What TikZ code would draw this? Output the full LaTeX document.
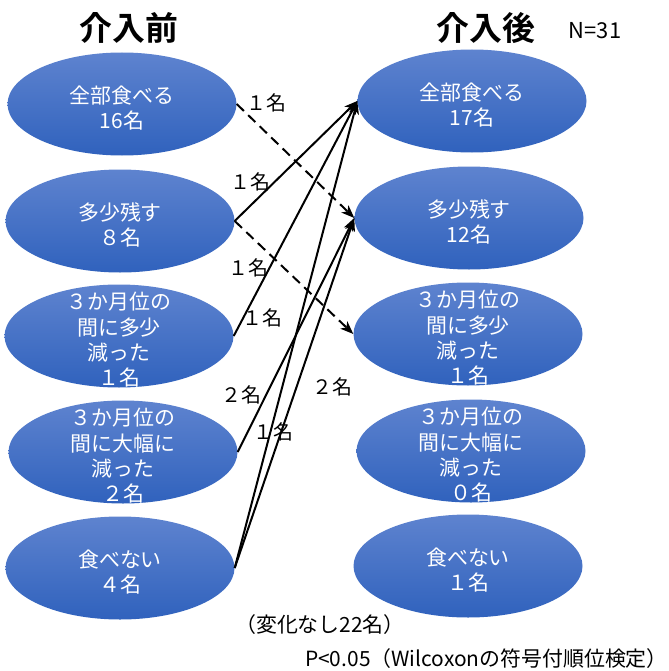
\documentclass[tikz,border=0pt]{standalone}
\usepackage{fontspec}
\newfontfamily\jp{Noto Sans CJK JP}[BoldFont={Noto Sans CJK JP Bold}]
\usetikzlibrary{shapes.geometric,arrows.meta}
\definecolor{blobtop}{RGB}{94,131,207}
\definecolor{blobbot}{RGB}{48,98,189}
\begin{document}
\begin{tikzpicture}[x=1bp,y=-1bp,
  blob/.style={ellipse, minimum width=229bp, minimum height=103bp, inner sep=0pt,
    top color=blobtop, bottom color=blobbot, draw=none},
  btxt/.style={text=white, inner sep=0pt, font=\jp\fontsize{21}{25.5}\selectfont, align=center},
  flow/.style={line width=2bp, -{Stealth[length=13bp,width=10bp,inset=3.5bp]}},
  dflow/.style={flow, dash pattern=on 10bp off 6bp},
  lbl/.style={font=\jp\fontsize{20}{20}\selectfont, inner sep=0pt},
  ttl/.style={font=\jp\bfseries\fontsize{33}{33}\selectfont, inner sep=0pt}]
\useasboundingbox (0,0) rectangle (669,671);

\node[ttl] (tpre) at (129,28) {介入前};
\node[ttl] (tpost) at (486,28) {介入後};
\node[font=\jp\fontsize{22}{22}\selectfont, inner sep=0pt] (n) at (595,31) {N=31};

\node[blob] (L1) at (122,104) {};
\node[blob] (L2) at (120,221) {};
\node[blob] (L3) at (119,336) {};
\node[blob] (L4) at (123,452) {};
\node[blob] (L5) at (120,568) {};
\node[blob] (R1) at (472,101) {};
\node[blob] (R2) at (469,218) {};
\node[blob] (R3) at (468,334) {};
\node[blob] (R4) at (471,451) {};
\node[blob] (R5) at (468,566) {};

\node[btxt] (L1t) at ([yshift=-4]L1.center) {全部食べる\\16名};
\node[btxt] (L2t) at ([yshift=-4]L2.center) {多少残す\\８名};
\node[btxt] (L3t) at ([yshift=-4]L3.center) {３か月位の\\間に多少\\減った\\１名};
\node[btxt] (L4t) at ([yshift=-4]L4.center) {３か月位の\\間に大幅に\\減った\\２名};
\node[btxt] (L5t) at ([yshift=-4]L5.center) {食べない\\４名};
\node[btxt] (R1t) at ([yshift=-4]R1.center) {全部食べる\\17名};
\node[btxt] (R2t) at ([yshift=-4]R2.center) {多少残す\\12名};
\node[btxt] (R3t) at ([yshift=-4]R3.center) {３か月位の\\間に多少\\減った\\１名};
\node[btxt] (R4t) at ([yshift=-4]R4.center) {３か月位の\\間に大幅に\\減った\\０名};
\node[btxt] (R5t) at ([yshift=-4]R5.center) {食べない\\１名};

\draw[dflow] (L1.east) -- (R2.west);
\draw[dflow] (L2.east) -- (R3.west);
\draw[flow] (L2.east) -- (R1.west);
\draw[flow] (L3.east) -- (R1.west);
\draw[flow] (L4.east) -- (R2.west);
\draw[flow] (L5.east) -- (R1.west);
\draw[flow] (L5.east) -- (R2.west);

\node[lbl] (a1) at (266,103) {１名};
\node[lbl] (a2) at (250,182) {１名};
\node[lbl] (a3) at (248,268) {１名};
\node[lbl] (a4) at (262,318) {１名};
\node[lbl] (a5) at (241,395) {２名};
\node[lbl] (a6) at (332,387) {２名};
\node[lbl] (a7) at (273,432) {１名};

\node[font=\jp\fontsize{21}{21}\selectfont, inner sep=0pt] (nc) at (320,625) {（変化なし22名）};
\node[font=\jp\fontsize{21}{21}\selectfont, inner sep=0pt, anchor=east] (pv) at (668,659) {P<0.05（Wilcoxonの符号付順位検定）};
\end{tikzpicture}
\end{document}
